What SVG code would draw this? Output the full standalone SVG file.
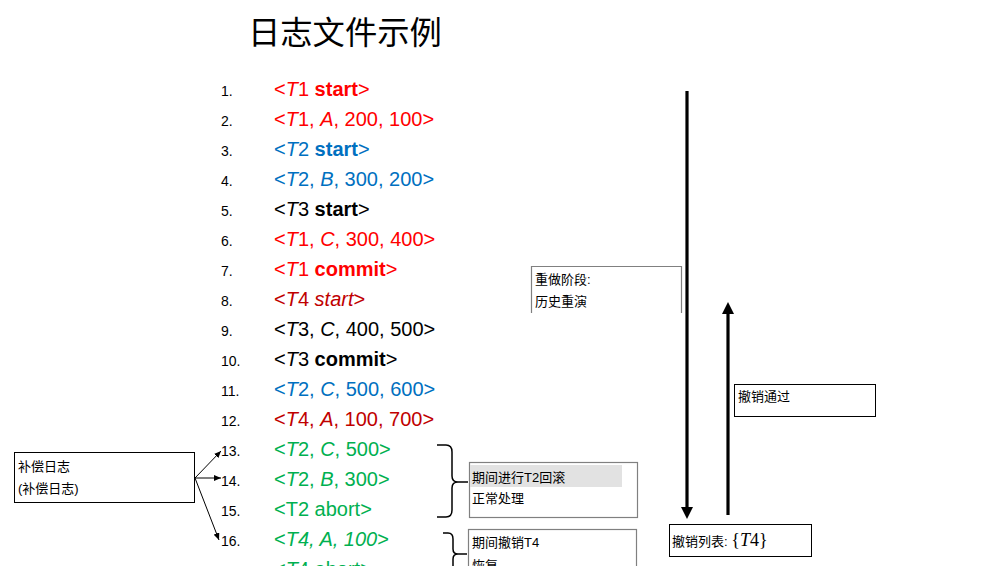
<svg xmlns="http://www.w3.org/2000/svg" width="1007" height="566" viewBox="0 0 1007 566">
  <style>
    .num { font-family: "Liberation Sans", Arial, sans-serif; font-size: 14px; fill: #000; }
    .ent { font-family: "Liberation Sans", Arial, sans-serif; font-size: 20px; }
    .i { font-style: italic; }
    .b { font-weight: bold; }
    .red { fill: #FF0000; }
    .blue { fill: #0070C0; }
    .blk { fill: #000000; }
    .dred { fill: #C00000; }
    .grn { fill: #00B050; }
    .cjk { font-family: "Liberation Sans", "Noto Sans CJK SC", sans-serif; font-size: 13px; fill: #000; }
    .box { fill: #fff; stroke: #000; stroke-width: 1; }
    .gbox { fill: #fff; stroke: #808080; stroke-width: 1.2; }
    .thin { stroke: #000; stroke-width: 1; fill: none; }
    .thick { stroke: #000; stroke-width: 3.2; fill: none; }
    .brace { stroke: #000; stroke-width: 1.5; fill: none; }
  </style>
  <defs>
    <marker id="headBig" markerUnits="userSpaceOnUse" markerWidth="12" markerHeight="12" viewBox="0 0 12 12" refX="0" refY="6" orient="auto">
      <path d="M0,0 L12,6 L0,12 z" fill="#000"/>
    </marker>
    <marker id="headSmall" markerUnits="userSpaceOnUse" markerWidth="7" markerHeight="6" viewBox="0 0 7 6" refX="7" refY="3" orient="auto">
      <path d="M0,0 L7,3 L0,6 z" fill="#000"/>
    </marker>
  </defs>
  <rect width="1007" height="566" fill="#fff"/>

  <!-- title -->
  <g id="title">
    <text x="248" y="44" font-family="'Noto Sans CJK SC', sans-serif" font-size="32.3" fill="#000">日志文件示例</text>
  </g>

  <!-- log records -->
  <g id="log">
    <text class="num" x="221" y="96">1.</text>
    <text class="ent red" x="274" y="96">&lt;<tspan class="i">T</tspan>1 <tspan class="b">start</tspan>&gt;</text>
    <text class="num" x="221" y="126">2.</text>
    <text class="ent red" x="274" y="126">&lt;<tspan class="i">T</tspan>1, <tspan class="i">A</tspan>, 200, 100&gt;</text>
    <text class="num" x="221" y="156">3.</text>
    <text class="ent blue" x="274" y="156">&lt;<tspan class="i">T</tspan>2 <tspan class="b">start</tspan>&gt;</text>
    <text class="num" x="221" y="186">4.</text>
    <text class="ent blue" x="274" y="186">&lt;<tspan class="i">T</tspan>2, <tspan class="i">B</tspan>, 300, 200&gt;</text>
    <text class="num" x="221" y="216">5.</text>
    <text class="ent blk" x="274" y="216">&lt;<tspan class="i">T</tspan>3 <tspan class="b">start</tspan>&gt;</text>
    <text class="num" x="221" y="246">6.</text>
    <text class="ent red" x="274" y="246">&lt;<tspan class="i">T</tspan>1, <tspan class="i">C</tspan>, 300, 400&gt;</text>
    <text class="num" x="221" y="276">7.</text>
    <text class="ent red" x="274" y="276">&lt;<tspan class="i">T</tspan>1 <tspan class="b">commit</tspan>&gt;</text>
    <text class="num" x="221" y="306">8.</text>
    <text class="ent dred" x="274" y="306">&lt;<tspan class="i">T</tspan>4 <tspan class="i">start</tspan>&gt;</text>
    <text class="num" x="221" y="336">9.</text>
    <text class="ent blk" x="274" y="336">&lt;<tspan class="i">T</tspan>3, <tspan class="i">C</tspan>, 400, 500&gt;</text>
    <text class="num" x="221" y="366">10.</text>
    <text class="ent blk" x="274" y="366">&lt;<tspan class="i">T</tspan>3 <tspan class="b">commit</tspan>&gt;</text>
    <text class="num" x="221" y="396">11.</text>
    <text class="ent blue" x="274" y="396">&lt;<tspan class="i">T</tspan>2, <tspan class="i">C</tspan>, 500, 600&gt;</text>
    <text class="num" x="221" y="426">12.</text>
    <text class="ent dred" x="274" y="426">&lt;<tspan class="i">T</tspan>4, <tspan class="i">A</tspan>, 100, 700&gt;</text>
    <text class="num" x="221" y="456">13.</text>
    <text class="ent grn" x="274" y="456">&lt;<tspan class="i">T</tspan>2, <tspan class="i">C</tspan>, 500&gt;</text>
    <text class="num" x="221" y="486">14.</text>
    <text class="ent grn" x="274" y="486">&lt;<tspan class="i">T</tspan>2, <tspan class="i">B</tspan>, 300&gt;</text>
    <text class="num" x="221" y="516">15.</text>
    <text class="ent grn" x="274" y="516">&lt;T2 abort&gt;</text>
    <text class="num" x="221" y="546">16.</text>
    <text class="ent grn" x="274" y="546">&lt;<tspan class="i">T4, A, 100</tspan>&gt;</text>
    <text class="num" x="221" y="576">17.</text>
    <text class="ent grn" x="274" y="576">&lt;<tspan class="i">T</tspan>4 abort&gt;</text>
  </g>

  <!-- compensation log box -->
  <g id="clr-box">
    <rect class="box" x="14.5" y="452.5" width="180" height="50"/>
    <text class="cjk" x="18" y="471">补偿日志</text>
    <text class="cjk" x="18" y="493">(补偿日志)</text>
  </g>

  <!-- rollback note -->
  <g id="t2-rollback">
    <rect class="gbox" x="469.5" y="462.5" width="168" height="55"/>
    <rect x="470" y="465" width="152" height="22" fill="#E2E2E2"/>
    <text class="cjk" x="472" y="482">期间进行T2回滚</text>
    <text class="cjk" x="472" y="503">正常处理</text>
  </g>

  <!-- T4 undo note -->
  <g id="t4-undo">
    <rect class="gbox" x="468.5" y="529.5" width="168" height="60"/>
    <text class="cjk" x="472" y="547">期间撤销T4</text>
    <text class="cjk" x="472" y="570">恢复</text>
  </g>

  <!-- redo phase note (open at the bottom) -->
  <g id="redo-phase">
    <path d="M531.5,313 V266.5 H681.5 V313" fill="#fff" stroke="#808080" stroke-width="1.2"/>
    <text class="cjk" x="535" y="284">重做阶段:</text>
    <text class="cjk" x="535" y="306">历史重演</text>
  </g>

  <!-- undo pass label -->
  <g id="undo-pass">
    <rect class="box" x="734.5" y="384.5" width="141" height="32" stroke="#555"/>
    <text class="cjk" x="738" y="401">撤销通过</text>
  </g>

  <!-- undo list -->
  <g id="undo-list">
    <rect class="box" x="669.5" y="524.5" width="142" height="32" stroke="#555"/>
    <text class="cjk" x="672" y="546" font-size="14">撤销列表: <tspan font-family="'Liberation Serif', serif" font-size="18">{<tspan font-style="italic">T</tspan>4}</tspan></text>
  </g>

  <!-- connectors -->
  <g id="connectors">
    <line class="thin" x1="195" y1="478" x2="221" y2="451" marker-end="url(#headSmall)"/>
    <line class="thin" x1="195" y1="478" x2="221" y2="478" marker-end="url(#headSmall)"/>
    <line class="thin" x1="195" y1="478" x2="219" y2="540" marker-end="url(#headSmall)"/>
    <line class="thick" x1="687" y1="91" x2="687" y2="507" marker-end="url(#headBig)"/>
    <line class="thick" x1="728" y1="515" x2="728" y2="314" marker-end="url(#headBig)"/>
    <path class="brace" d="M437,445 H446 Q452,445 452,452 V476 Q452,482 458,482 H468 M458,482 Q452,482 452,488 V510 Q452,517 446,517 H437"/>
    <path class="brace" d="M443,533 H448 Q453,533 453,539 V549 Q453,554 458,554 H467 M458,554 Q453,554 453,559 V580"/>
  </g>
</svg>
